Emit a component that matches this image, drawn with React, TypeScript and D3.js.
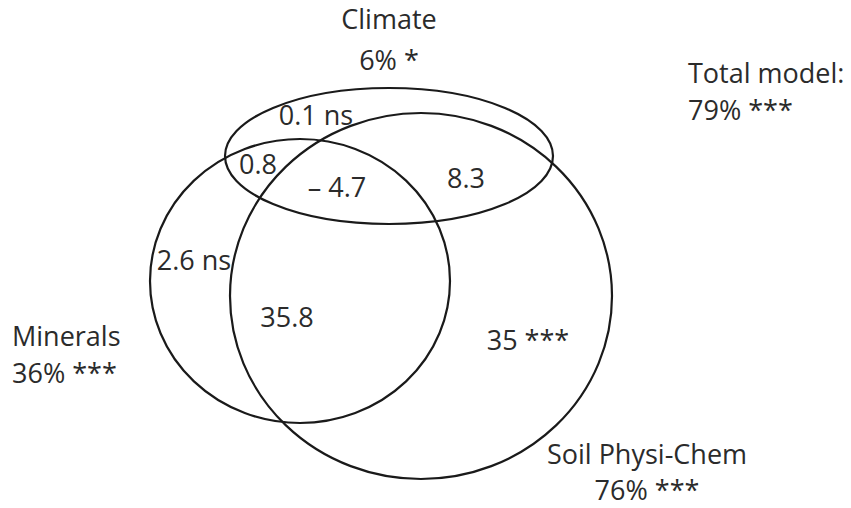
import * as d3 from 'd3'
import { useEffect, useRef } from 'react'

const width = 851, height = 508

// sets: name, explained share (%), significance
const setNames = ['Climate', 'Minerals', 'Soil Physi-Chem']
const setShares = [6, 36, 76]
const setSig = ['*', '***', '***']

// partition regions (unique / shared fractions)
const regionKeys = ['C', 'CM', 'CMS', 'CS', 'M', 'MS', 'S']
const regionValues = [0.1, 0.8, -4.7, 8.3, 2.6, 35.8, 35]
const regionSig = ['ns', '', '', '', 'ns', '', '***']

const totalShare = 79
const totalSig = '***'

// layout (pixel space)
const shapes = [
  { cx: 389, cy: 156, rx: 164, ry: 68 },
  { cx: 300, cy: 281, rx: 150, ry: 142 },
  { cx: 421, cy: 296, rx: 191, ry: 183 },
]
const setLabelPos = [
  { x: 389, y: 29, gap: 41, anchor: 'middle' },
  { x: 12, y: 346, gap: 37, anchor: 'start' },
  { x: 647, y: 464, gap: 36, anchor: 'middle' },
]
const regionPos = {
  C: [316, 125], CM: [258, 174], CMS: [337, 197], CS: [466, 188],
  M: [194, 270], MS: [287, 327], S: [528, 350],
}

const fmt = (v: number) => v < 0 ? `\u2013 ${Math.abs(v)}` : `${v}`

const chart = (node: SVGSVGElement) => {
  const svg = d3.select(node)
  svg.selectAll('*').remove()

  svg.append('rect').attr('width', width).attr('height', height).attr('fill', '#fff')

  svg.append('g')
    .attr('fill', 'none')
    .attr('stroke', '#1a1a1a')
    .attr('stroke-width', 2.2)
  .selectAll('ellipse')
  .data(shapes)
  .join('ellipse')
    .attr('cx', d => d.cx)
    .attr('cy', d => d.cy)
    .attr('rx', d => d.rx)
    .attr('ry', d => d.ry)

  const txt = svg.append('g')
    .attr('font-family', '"Open Sans", sans-serif')
    .attr('font-size', 27)
    .attr('fill', '#2b2b2b')

  const sets = txt.selectAll('g.set')
    .data(setNames.map((n, i) => ({ name: n, share: setShares[i], sig: setSig[i], pos: setLabelPos[i] })))
    .join('g')
      .attr('class', 'set')
  sets.append('text')
    .attr('x', d => d.pos.x).attr('y', d => d.pos.y)
    .attr('text-anchor', d => d.pos.anchor)
    .text(d => d.name)
  sets.append('text')
    .attr('x', d => d.pos.x).attr('y', d => d.pos.y + d.pos.gap)
    .attr('text-anchor', d => d.pos.anchor)
    .text(d => `${d.share}% ${d.sig}`)

  txt.append('text').attr('x', 688).attr('y', 83).text('Total model:')
  txt.append('text').attr('x', 688).attr('y', 120).text(`${totalShare}% ${totalSig}`)

  txt.selectAll('text.region')
    .data(regionKeys.map((k, i) => ({ key: k, v: regionValues[i], sig: regionSig[i] })))
    .join('text')
      .attr('class', 'region')
      .attr('x', d => regionPos[d.key][0])
      .attr('y', d => regionPos[d.key][1])
      .attr('text-anchor', 'middle')
      .text(d => d.sig ? `${fmt(d.v)} ${d.sig}` : fmt(d.v))
}

export default function App() {
  const ref = useRef<SVGSVGElement>(null)
  useEffect(() => {
    if (ref.current) chart(ref.current)
  }, [])
  return (
    <svg ref={ref} width={width} height={height}
      style={{ position: 'absolute', left: 0, top: 0, display: 'block' }} />
  )
}
